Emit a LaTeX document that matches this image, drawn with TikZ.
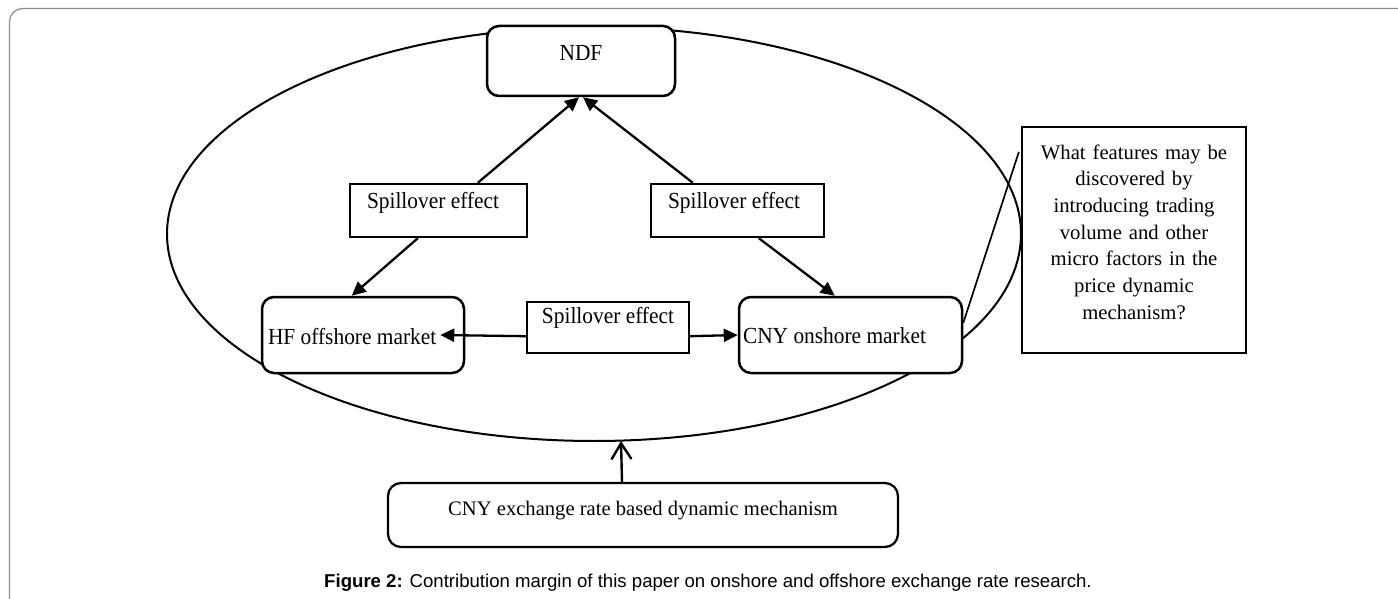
\documentclass[tikz,border=0pt]{standalone}
\usepackage{fontspec}
\setmainfont{Liberation Serif}
\setsansfont{Liberation Sans}
\newfontfamily\boxfont[FakeStretch=0.93]{Liberation Serif}
\usetikzlibrary{arrows.meta,calc}
\begin{document}
\begin{tikzpicture}[x=1pt,y=-1pt,
  boxbase/.style={draw,fill=white,inner sep=0pt,line width=2.5pt,
    font=\boxfont\fontsize{23pt}{27pt}\selectfont},
  rbox/.style={boxbase,rounded corners=12pt},
  sbox/.style={boxbase,line width=2.4pt,align=flush left,inner xsep=17pt},
  qbox/.style={draw,fill=white,inner sep=0pt,line width=2.3pt,align=center,
    font=\fontsize{20.7pt}{26.7pt}\selectfont},
  arr/.style={line width=2.3pt,-{Triangle[length=14pt,width=13pt]}},
  openarr/.style={line width=2.4pt,-{Straight Barb[length=16pt,width=20pt]}},
  thinline/.style={line width=1.7pt},
  framec/.style={draw=black!45,line width=1.2pt,rounded corners=13pt},
  capfont/.style={font=\sffamily\fontsize{18.6pt}{22pt}\selectfont}
]
\useasboundingbox (0,0) rectangle (1398,599);
% page frame
\draw[framec] (9.5,599) -- (9.5,8.5) -- (1398,8.5);
% ellipse
\draw[line width=2pt] (594,234) ellipse [x radius=427pt, y radius=207pt];
\coordinate (ellB) at (621,441);
% nodes
\node[rbox,minimum width=188pt,minimum height=70pt,text height=15pt,text depth=15pt] (ndf) at (581,61) {NDF};
\node[sbox,minimum width=177pt,minimum height=53pt,text width=143pt,text height=12pt,text depth=17pt] (spL) at (438.5,210.5) {Spillover effect};
\node[sbox,minimum width=173pt,minimum height=53pt,text width=139pt,text height=12pt,text depth=17pt] (spR) at (737.5,210.5) {Spillover effect};
\node[boxbase,line width=2.4pt,minimum width=162pt,minimum height=51pt,text height=12pt,text depth=21pt] (spM) at (608,327.5) {Spillover effect};
\node[rbox,align=flush left,inner xsep=6pt,minimum width=202pt,minimum height=76pt,text width=190pt,text height=20pt,text depth=2pt] (hf) at (363,335) {HF offshore market};
\node[rbox,align=flush left,inner xsep=4pt,minimum width=223pt,minimum height=76pt,text width=215pt,text height=19pt,text depth=3pt] (cny) at (850.5,335) {CNY onshore market};
\node[qbox,minimum width=224pt,minimum height=226pt,text width=224pt] (q) at (1134,240)
  {What features may be\\ discovered by\\ introducing trading\\ volume and other\\ micro factors in the\\ price dynamic\\ mechanism?\rule[-16pt]{0pt}{16pt}};
\node[rbox,rounded corners=13pt,line width=2.3pt,font=\rmfamily\fontsize{20.6pt}{26pt}\selectfont,minimum width=510pt,minimum height=64pt,text height=15pt,text depth=15pt] (bot) at (643,515) {CNY exchange rate based dynamic mechanism};
% connectors
\draw[arr] ($(spL.north west)+(129,0)$) -- ($(ndf.south)+(-2,0)$);
\draw[arr] ($(spR.north west)+(43,0)$) -- ($(ndf.south)+(2,0)$);
\draw[arr] ($(spL.south west)+(69,0)$) -- ($(hf.north west)+(91,0)$);
\draw[arr] ($(spR.south west)+(109,0)$) -- ($(cny.north west)+(97,0)$);
\draw[arr] ($(spM.south west)+(0,-18)$) -- ($(hf.east)+(-25,0)$);
\draw[arr] ($(spM.south east)+(0,-18)$) -- (cny.west);
\draw[openarr] ($(bot.north)+(-21,0)$) -- (ellB);
\draw[thinline] ($(q.north west)+(-2,26)$) -- ($(cny.east)+(0,-12)$);
% caption
\node[capfont,anchor=base] (cap) at (708,587) {\textbf{Figure 2:} Contribution margin of this paper on onshore and offshore exchange rate research.};
\end{tikzpicture}
\end{document}
